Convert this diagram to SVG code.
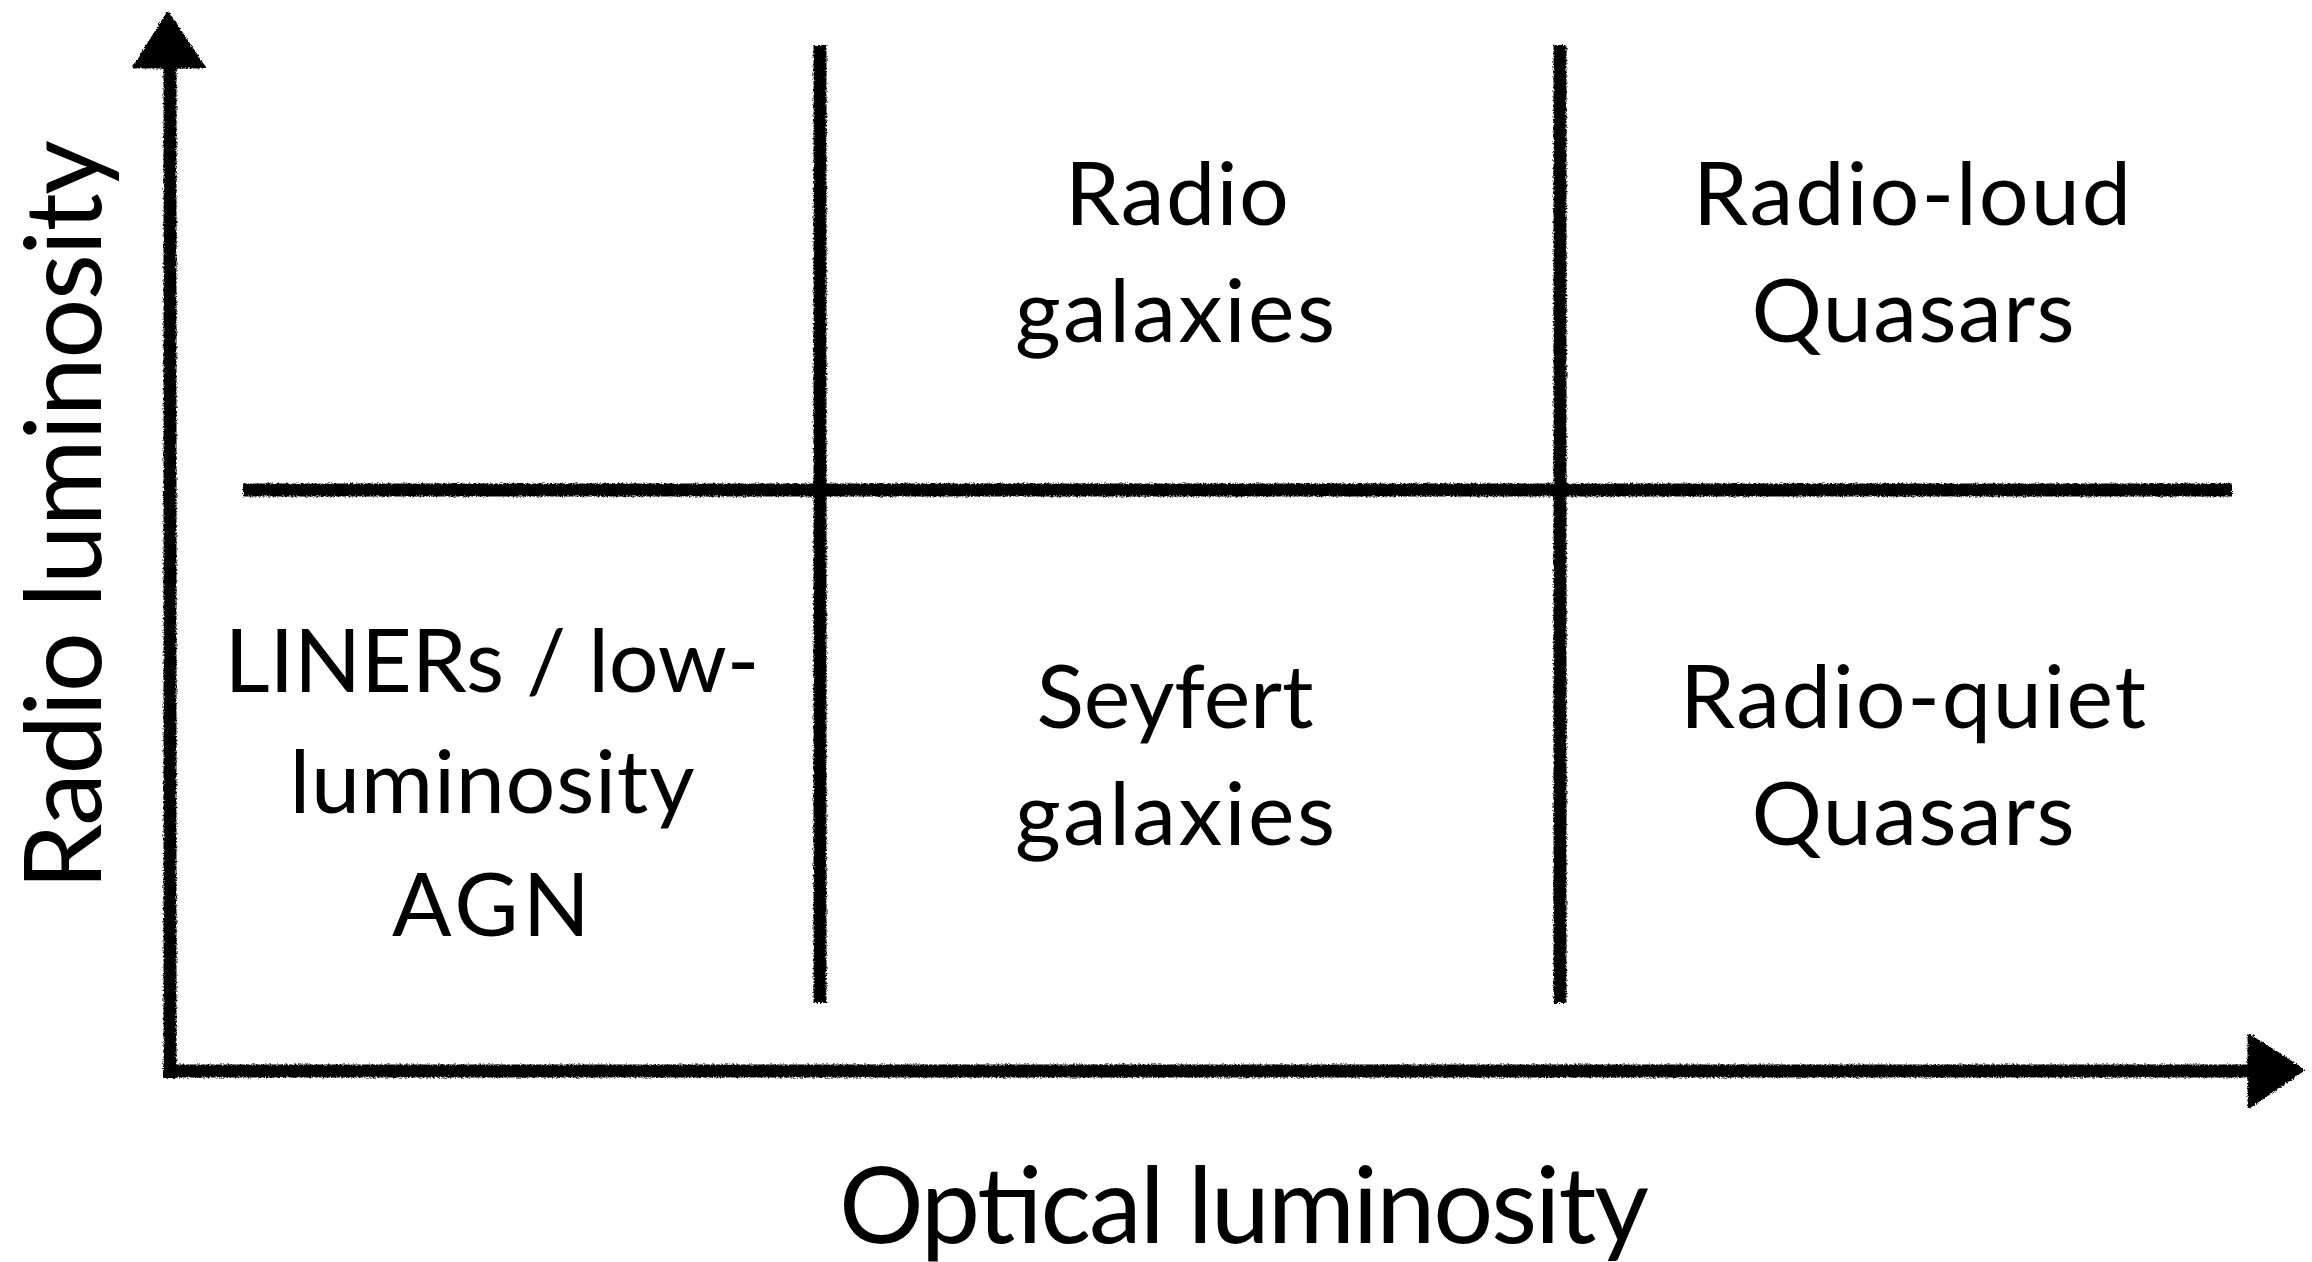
<svg xmlns="http://www.w3.org/2000/svg" width="2312" height="1262" viewBox="0 0 2312 1262">
<defs>
<filter id="rough" x="-5%" y="-5%" width="110%" height="110%">
<feTurbulence type="fractalNoise" baseFrequency="0.6" numOctaves="2" seed="3" result="n"/>
<feDisplacementMap in="SourceGraphic" in2="n" scale="4" xChannelSelector="R" yChannelSelector="G"/>
</filter>
<style>
.ln{stroke:#000;stroke-width:13;fill:none;stroke-linecap:butt}
.hd{fill:#000;stroke:#000;stroke-width:3;stroke-linejoin:round}
.t{font-family:Lato,"Open Sans","Liberation Sans",sans-serif;font-size:88px;fill:#000;text-anchor:middle}
.ax{font-family:Lato,"Open Sans","Liberation Sans",sans-serif;font-size:106px;fill:#000;text-anchor:middle}
</style>
</defs>
<rect width="2312" height="1262" fill="#fff"/>
<g id="connectors" filter="url(#rough)">
<line class="ln" x1="170" y1="1078" x2="170" y2="62"/>
<polygon class="hd" points="168,13 204,67 134,67"/>
<line class="ln" x1="163" y1="1071" x2="2252" y2="1071"/>
<polygon class="hd" points="2303,1070 2249,1035 2249,1107"/>
<line class="ln" x1="243" y1="490" x2="2232" y2="490"/>
<line class="ln" x1="820" y1="45" x2="820" y2="1003"/>
<line class="ln" x1="1560" y1="45" x2="1560" y2="1003"/>
</g>
<g id="node-radio-galaxies">
<text class="t" x="1177" y="225" textLength="224">Radio</text>
<text class="t" x="1175" y="342" textLength="320">galaxies</text>
</g>
<g id="node-radio-loud-quasars">
<text class="t" x="1912" y="225" textLength="438">Radio-loud</text>
<text class="t" x="1913" y="342" textLength="323">Quasars</text>
</g>
<g id="node-liners">
<text class="t" x="492" y="692" textLength="535">LINERs / low-</text>
<text class="t" x="492" y="813" textLength="405">luminosity</text>
<text class="t" x="491" y="936" textLength="198">AGN</text>
</g>
<g id="node-seyfert">
<text class="t" x="1175" y="728" textLength="277">Seyfert</text>
<text class="t" x="1175" y="845" textLength="320">galaxies</text>
</g>
<g id="node-radio-quiet-quasars">
<text class="t" x="1913" y="728" textLength="466">Radio-quiet</text>
<text class="t" x="1913" y="845" textLength="323">Quasars</text>
</g>
<g id="axis-labels">
<text class="ax" x="1244" y="1243" textLength="810">Optical luminosity</text>
<text class="ax" transform="translate(101,515) rotate(-90)" x="0" y="0" textLength="750">Radio luminosity</text>
</g>
</svg>
